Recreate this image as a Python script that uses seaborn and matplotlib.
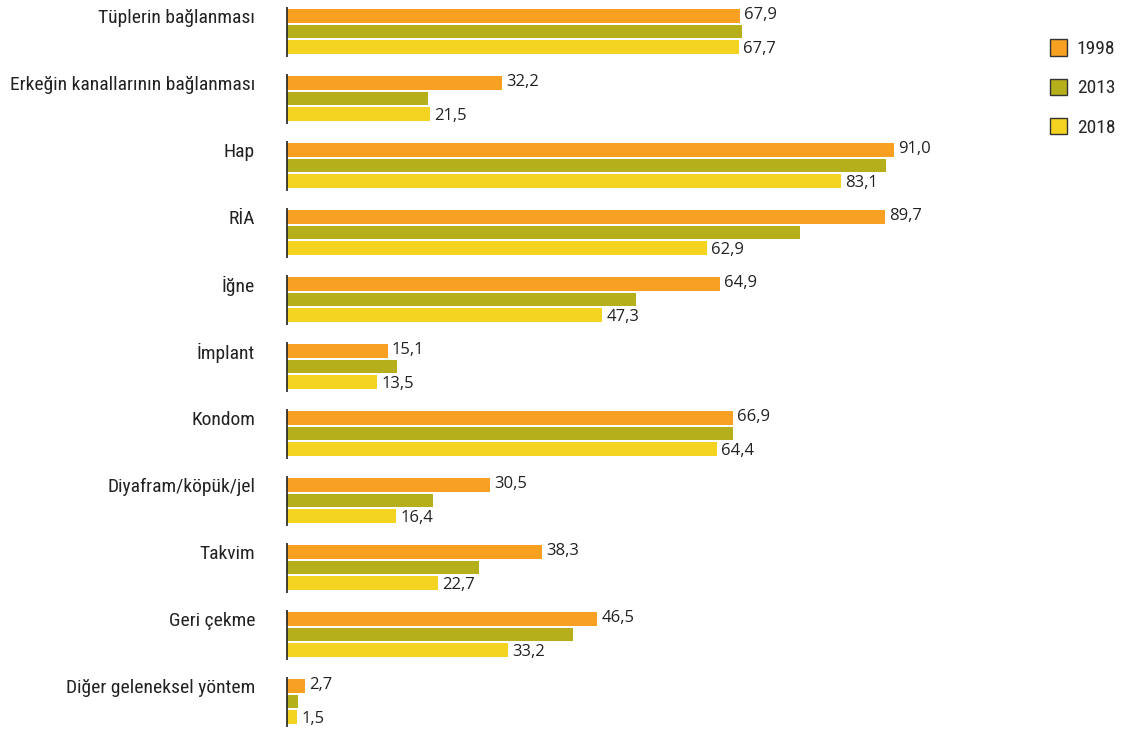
import matplotlib
matplotlib.use("Agg")
import matplotlib.pyplot as plt
from matplotlib.patches import Patch
from matplotlib import font_manager
import seaborn as sns
import pandas as pd

categories = ["Tüplerin bağlanması", "Erkeğin kanallarının bağlanması", "Hap", "RİA", "İğne",
              "İmplant", "Kondom", "Diyafram/köpük/jel", "Takvim", "Geri çekme",
              "Diğer geleneksel yöntem"]
years = ["1998", "2013", "2018"]
v1998 = [67.9, 32.2, 91.0, 89.7, 64.9, 15.1, 66.9, 30.5, 38.3, 46.5, 2.7]
v2013 = [68.2, 21.1, 89.8, 76.9, 52.3, 16.5, 66.9, 21.9, 28.8, 42.9, 1.6]
v2018 = [67.7, 21.5, 83.1, 62.9, 47.3, 13.5, 64.4, 16.4, 22.7, 33.2, 1.5]
colors = ["#F7A021", "#B5AF1C", "#F4D420"]

sns.set_theme(style="white")
names = {f.name for f in font_manager.fontManager.ttflist}
cond = "Roboto Condensed" if "Roboto Condensed" in names else "Roboto"
plt.rcParams["font.family"] = ["Open Sans", "DejaVu Sans"]

df = pd.DataFrame({
    "cat": categories * 3,
    "year": [years[0]] * len(categories) + [years[1]] * len(categories) + [years[2]] * len(categories),
    "val": v1998 + v2013 + v2018,
})

fig = plt.figure(figsize=(11.23, 7.34), dpi=100)
ax = fig.add_axes([287 / 1123, 0.0, 667 / 1123, 1.0])
sns.barplot(data=df, y="cat", x="val", hue="year", palette=colors, orient="h",
            width=0.68, gap=0.1, legend=False, ax=ax, saturation=1,
            edgecolor="none", linewidth=0)

ax.set_xlim(0, 100)
ax.set_ylim(10.485, -0.47)
for s in ax.spines.values():
    s.set_visible(False)
ax.set_xticks([])
ax.set_xlabel("")
ax.set_ylabel("")

# broken axis line per group
for i in range(len(categories)):
    ax.plot([0, 0], [i - 0.37, i + 0.38], color="#222222", lw=1.2, clip_on=False,
            solid_capstyle="butt")

# category labels aligned to top (1998) bar
c0 = ax.containers[0]
ypos = [p.get_y() + p.get_height() / 2 for p in c0]
ax.set_yticks(ypos)
ax.set_yticklabels(categories, fontsize=14, color="#222222", family=[cond, "DejaVu Sans"])
ax.tick_params(axis="y", length=0, pad=23)

def fmt(v):
    return f"{v:.1f}".replace(".", ",")

for p, v in zip(ax.containers[0], v1998):
    ax.annotate(fmt(v), xy=(p.get_width(), p.get_y() + p.get_height() / 2),
                xytext=(3, 1), textcoords="offset points", va="center", ha="left",
                fontsize=12, color="#222222")
for p, v in zip(ax.containers[2], v2018):
    ax.annotate(fmt(v), xy=(p.get_width(), p.get_y() + p.get_height() / 2),
                xytext=(3, -2), textcoords="offset points", va="center", ha="left",
                fontsize=12, color="#222222")

handles = [Patch(facecolor=c, edgecolor="#333333", linewidth=1) for c in colors]
fig.legend(handles, years, loc="upper left", bbox_to_anchor=(1032 / 1123, 1 - 22 / 734),
           frameon=False, prop={"family": cond, "size": 14}, labelspacing=1.05,
           handlelength=0.9, handleheight=0.9, handletextpad=0.5)

fig.savefig("out.png", dpi=100)
